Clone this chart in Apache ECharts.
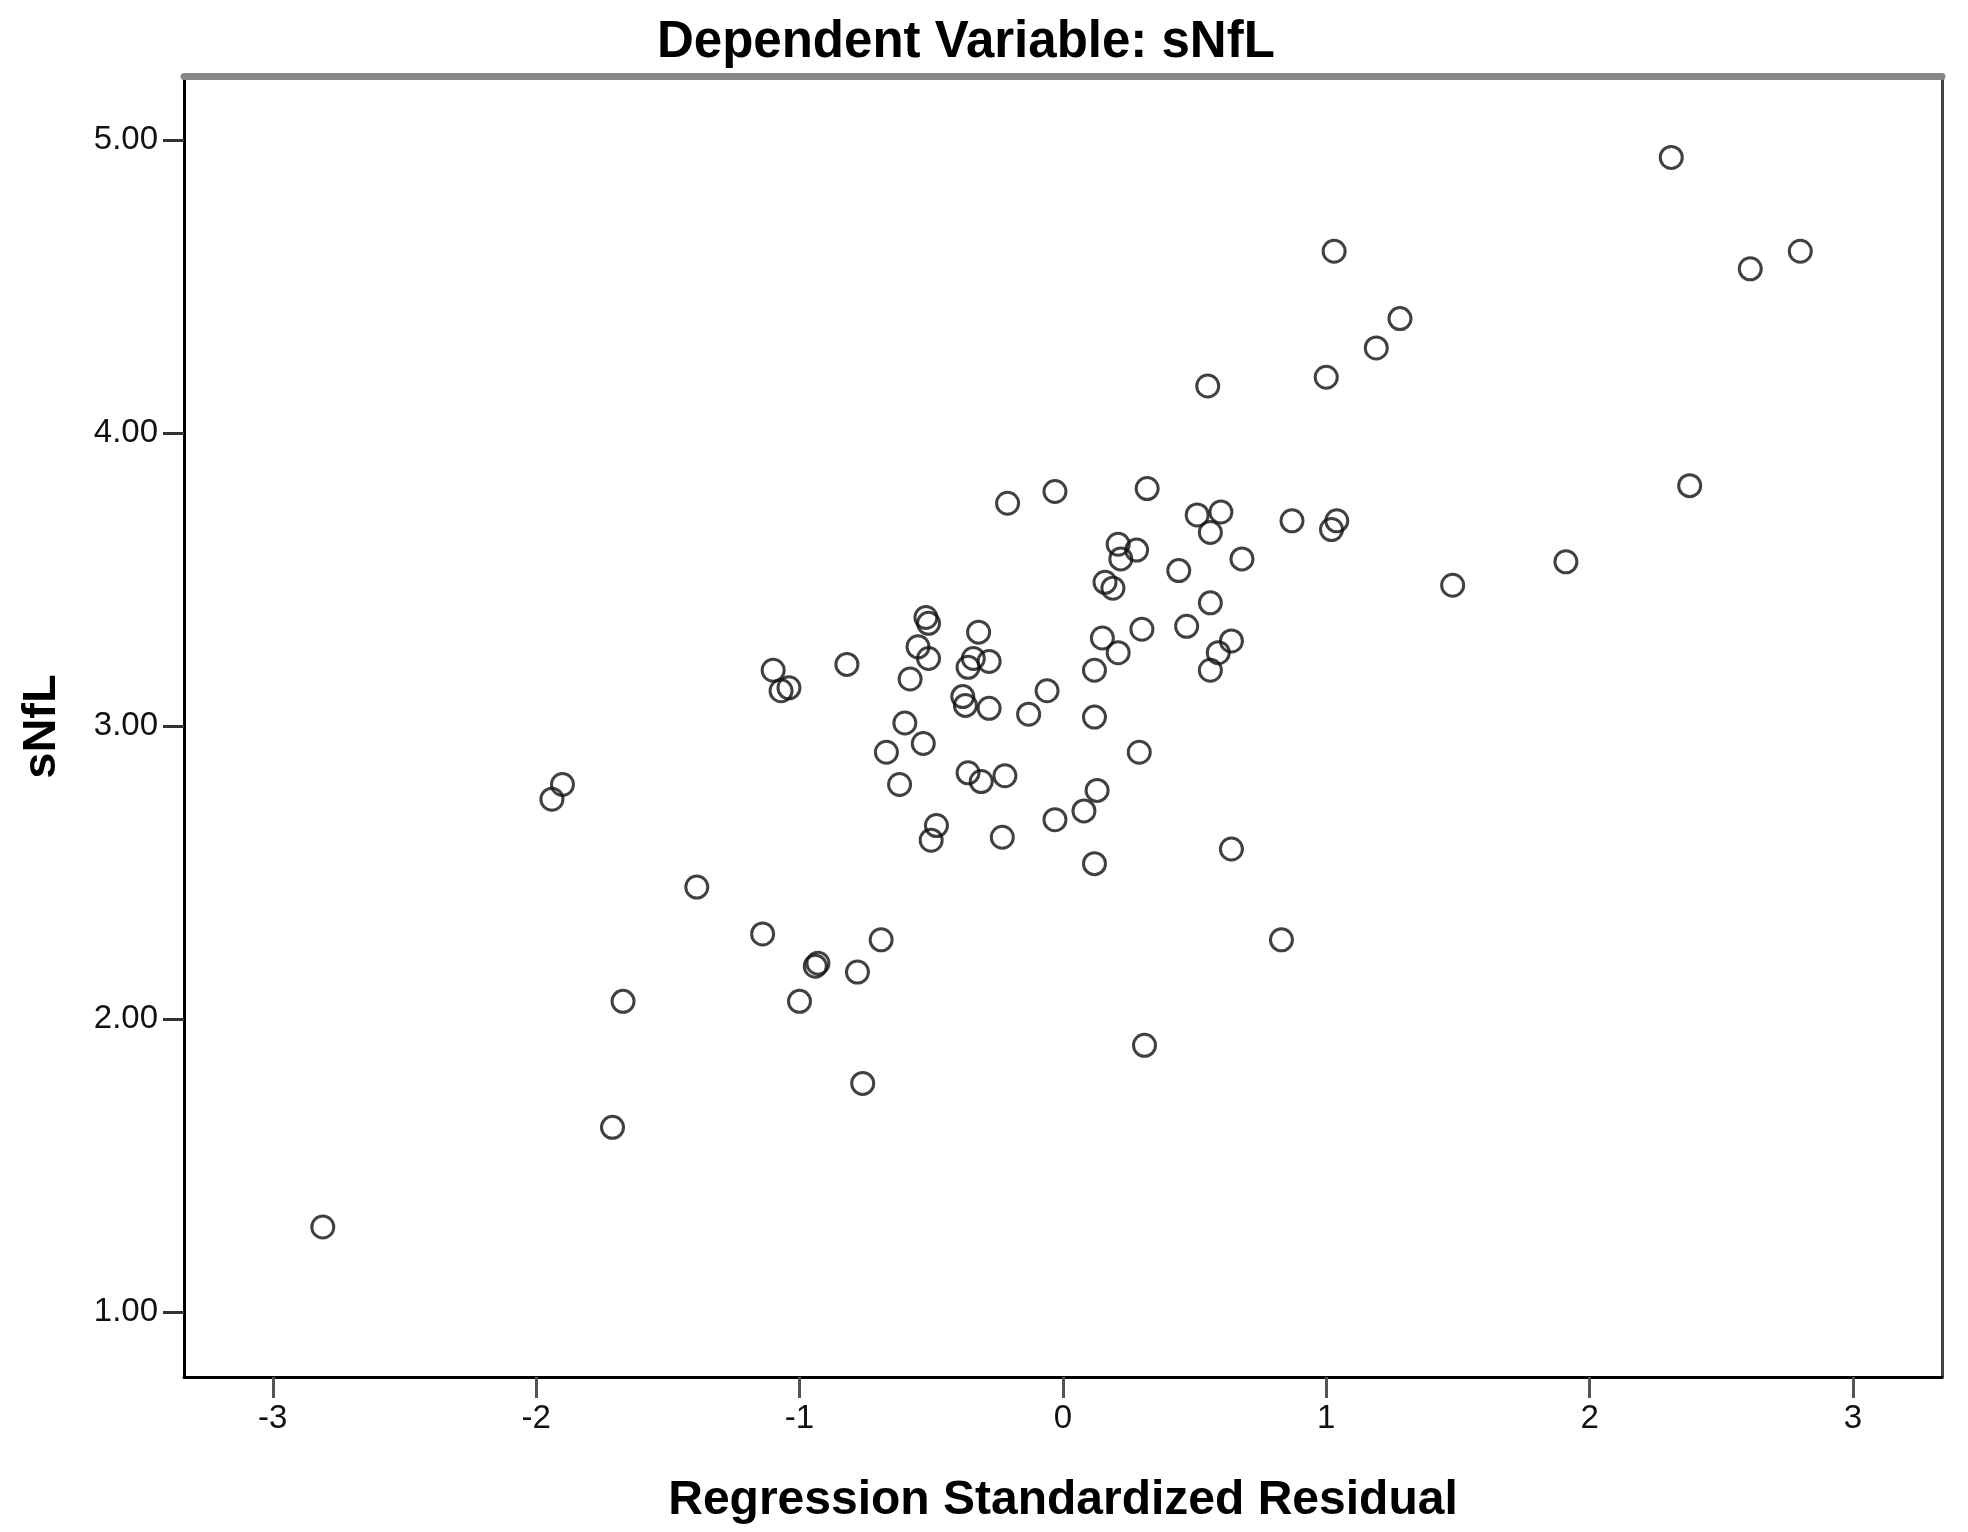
<!DOCTYPE html>
<html>
<head>
    <meta charset='utf-8'>
    <script src="https://cdn.jsdelivr.net/npm/echarts@6/dist/echarts.min.js"></script>
</head>
<body>
<style>
    html, body, #main {
        width: 100%;
        height: 100%;
        margin: 0;
        padding: 0;
        background: #fff;
    }
</style>
<div id="main"></div>
<script>
    // regression standardized residual vs sNfL
    var resid = [2.31, 1.03, 2.61, 2.80, 1.28, 1.19, 1.00, 0.55, 2.38, 0.32,
        -0.03, -0.21, 0.51, 0.60, 0.87, 1.04, 1.02, 0.56, 0.21, 0.28,
        0.22, 0.68, 0.44, 1.91, 0.16, 0.19, 1.48, 0.56, -0.52, -0.51,
        -0.32, 0.47, 0.30, 0.15, -0.55, 0.64, 0.59, 0.21, -0.51, -0.34,
        -0.36, -0.28, -0.82, -1.10, 0.56, 0.12, -0.58, -1.04, -1.07, -0.06,
        -0.38, -0.37, -0.28, -0.13, 0.12, -0.60, -0.53, -0.67, 0.29, -1.94,
        -1.90, -0.36, -0.22, -0.31, -0.62, 0.13, 0.08, -0.03, -0.48, -0.50,
        -0.23, 0.64, 0.12, -1.39, -1.14, -0.69, 0.83, -0.93, -0.94, -0.78,
        -1.67, -1.00, 0.31, -0.76, -1.71, -2.81];
    var snfl = [4.94, 4.62, 4.56, 4.62, 4.39, 4.29, 4.19, 4.16, 3.82, 3.81,
        3.80, 3.76, 3.72, 3.73, 3.70, 3.70, 3.67, 3.66, 3.62, 3.60,
        3.57, 3.57, 3.53, 3.56, 3.49, 3.47, 3.48, 3.42, 3.37, 3.35,
        3.32, 3.34, 3.33, 3.30, 3.27, 3.29, 3.25, 3.25, 3.23, 3.23,
        3.20, 3.22, 3.21, 3.19, 3.19, 3.19, 3.16, 3.13, 3.12, 3.12,
        3.10, 3.07, 3.06, 3.04, 3.03, 3.01, 2.94, 2.91, 2.91, 2.75,
        2.80, 2.84, 2.83, 2.81, 2.80, 2.78, 2.71, 2.68, 2.66, 2.61,
        2.62, 2.58, 2.53, 2.45, 2.29, 2.27, 2.27, 2.19, 2.18, 2.16,
        2.06, 2.06, 1.91, 1.78, 1.63, 1.29];
    var xTicks = [-3, -2, -1, 0, 1, 2, 3];
    var yTicks = [1, 2, 3, 4, 5];

    var chart = echarts.init(document.getElementById('main'));

    var points = [];
    for (var i = 0; i < resid.length; i++) {
        points.push([resid[i], snfl[i]]);
    }

    var font = 'Arial, "Liberation Sans", sans-serif';
    var xMin = -3.337, xMax = 3.338, yMin = 0.778, yMax = 5.218;

    var option = {
        backgroundColor: '#fff',
        animation: false,
        title: {
            text: 'Dependent Variable: sNfL',
            left: 657,
            top: 17,
            padding: 0,
            textStyle: {
                fontFamily: font,
                fontWeight: 'bold',
                fontSize: 51,
                color: '#000'
            }
        },
        grid: {
            left: 184,
            right: 26,
            top: 76,
            bottom: 155,
            containLabel: false
        },
        xAxis: [{
            type: 'value',
            min: xMin,
            max: xMax,
            position: 'bottom',
            name: 'Regression Standardized Residual',
            nameLocation: 'middle',
            nameGap: 100,
            nameTextStyle: {
                fontFamily: font,
                fontWeight: 'bold',
                fontSize: 48,
                color: '#000'
            },
            axisLine: {show: true, onZero: false, lineStyle: {color: '#000', width: 3}},
            axisTick: {
                show: true,
                length: 21,
                customValues: xTicks,
                lineStyle: {color: '#555', width: 3}
            },
            axisLabel: {
                customValues: xTicks,
                margin: 25,
                fontFamily: font,
                fontSize: 33,
                color: '#111'
            },
            splitLine: {show: false}
        }, {
            type: 'value',
            min: xMin,
            max: xMax,
            position: 'top',
            axisLine: {show: true, onZero: false, lineStyle: {color: '#888', width: 7}},
            axisTick: {show: false},
            axisLabel: {show: false},
            splitLine: {show: false}
        }],
        yAxis: [{
            type: 'value',
            min: yMin,
            max: yMax,
            position: 'left',
            name: 'sNfL',
            nameLocation: 'middle',
            nameGap: 118,
            nameRotate: 90,
            nameTextStyle: {
                fontFamily: font,
                fontWeight: 'bold',
                fontSize: 47,
                color: '#000'
            },
            axisLine: {show: true, onZero: false, lineStyle: {color: '#000', width: 3}},
            axisTick: {
                show: true,
                length: 21,
                customValues: yTicks,
                lineStyle: {color: '#333', width: 3}
            },
            axisLabel: {
                customValues: yTicks,
                margin: 26,
                fontFamily: font,
                fontSize: 33,
                color: '#111',
                formatter: function (v) {
                    return v.toFixed(2);
                }
            },
            splitLine: {show: false}
        }, {
            type: 'value',
            min: yMin,
            max: yMax,
            position: 'right',
            axisLine: {show: true, onZero: false, lineStyle: {color: '#444', width: 3}},
            axisTick: {show: false},
            axisLabel: {show: false},
            splitLine: {show: false}
        }],
        series: [{
            type: 'scatter',
            xAxisIndex: 0,
            yAxisIndex: 0,
            symbol: 'circle',
            symbolSize: 22,
            itemStyle: {
                color: 'rgba(255,255,255,0)',
                borderColor: '#111',
                borderWidth: 3
            },
            data: points
        }]
    };

    chart.setOption(option);
</script>
</body>
</html>
